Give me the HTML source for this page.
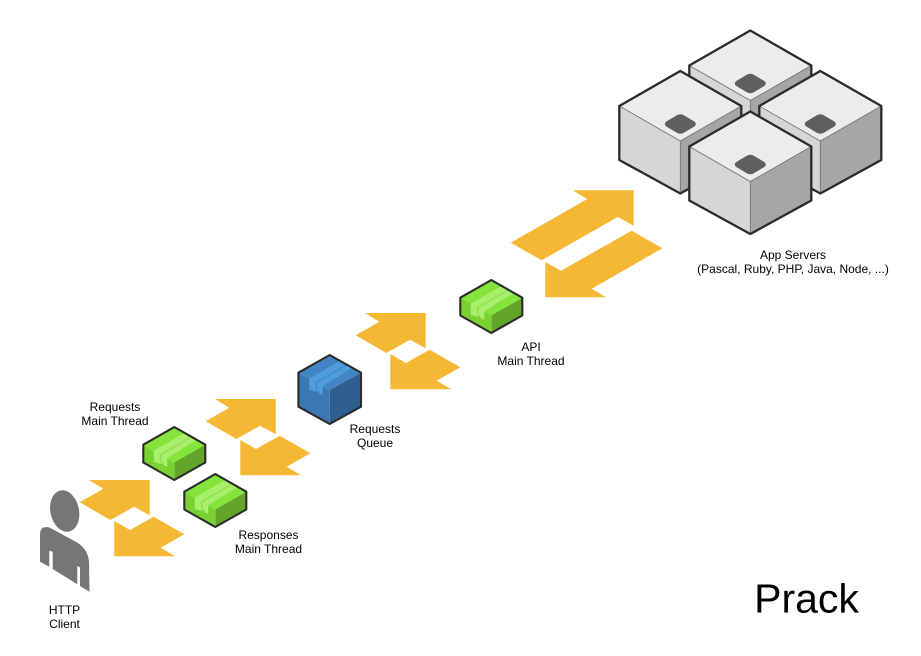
<!DOCTYPE html>
<html><head><meta charset="utf-8"><style>
html,body{margin:0;padding:0;background:#fff;width:921px;height:656px;overflow:hidden}
svg{display:block}
text{font-family:"Liberation Sans",Arial,sans-serif;font-size:12px;fill:#000;text-anchor:middle}
</style></head><body>
<svg width="921" height="656" viewBox="0 0 921 656" xmlns="http://www.w3.org/2000/svg">
<defs>
<g id="arrows" fill="#f4b835">
<polygon points="365,313 425.7,313 425.7,348.3 410,339.7 386.3,353 355.7,335.3 379.3,321.7"/>
<polygon points="390.3,354 406,363 429.7,349.7 460.3,367.3 436.7,380.7 451,389.3 390.3,389.3"/>
</g>
<g id="cube">
<polygon points="0,70 61,35 61,89 0,122.5" fill="#a6a6a6"/>
<polygon points="0,70 -61,35 -61,89 0,122.5" fill="#d6d6d6"/>
<polygon points="0,0 61,35 0,70 -61,35" fill="#ececec"/>
<path d="M-61,35 L0,70 L61,35 M0,70 V122.5" fill="none" stroke="#6e6e6e" stroke-width="0.8"/>
<polygon points="0,0 61,35 61,89 0,122.5 -61,89 -61,35" fill="none" stroke="#2b2b2b" stroke-width="2.3" stroke-linejoin="round"/>
<path d="M-3.5,44.2 Q0,42.2 3.5,44.2 L14,50.5 Q17,53 14,55.5 L3.5,61.8 Q0,63.8 -3.5,61.8 L-14,55.5 Q-17,53 -14,50.5 Z" fill="#5f5f5f"/>
</g>
<g id="gbox">
<polygon points="0,35.3 31,17.7 31,35.5 0,53" fill="#63a529"/>
<polygon points="0,35.3 -31,17.7 -31,35.5 0,53" fill="#7ad232"/>
<polygon points="0,0 31,17.7 0,35.3 -31,17.7" fill="#85e43c"/>
<polygon points="-20.5,23.5 10.5,5.9 22.5,12.8 -7,31.2 -7,40 -11,38 -11,36.5 -13,35.5 -13,37 -20.5,35" fill="#a9ef6d"/>
<polygon points="-14.2,27.3 16.6,9.4 17.8,10.1 -12.6,28.2 -12.6,36 -14.2,35.5" fill="#8fe34c"/>
<polygon points="0,0 31,17.7 31,35.5 0,53 -31,35.5 -31,17.7" fill="none" stroke="#2b2b2b" stroke-width="2.1" stroke-linejoin="round"/>
</g>
<g id="bbox">
<polygon points="0,34.7 31.3,17.7 31.3,51.7 0,69" fill="#2f5f8f"/>
<polygon points="0,34.7 -31.3,17.7 -31.3,51.7 0,69" fill="#3b77b3"/>
<polygon points="0,0 31.3,17.7 0,34.7 -31.3,17.7" fill="#4385c4"/>
<polygon points="-20.5,23.5 10.5,5.9 22.5,12.8 -7,31.2 -7,40 -11,38 -11,36.5 -13,35.5 -13,37 -20.5,35" fill="#4f9ddb"/>
<polygon points="-14.2,27.3 16.6,9.4 17.8,10.1 -12.6,28.2 -12.6,36 -14.2,35.5" fill="#4689c8"/>
<polygon points="0,0 31.3,17.7 31.3,51.7 0,69 -31.3,51.7 -31.3,17.7" fill="none" stroke="#2b2b2b" stroke-width="2.1" stroke-linejoin="round"/>
</g>
</defs>

<!-- big arrows -->
<g fill="#f4b835">
<polygon points="572.7,190.3 633.7,190.3 633.7,225.7 617.7,217 541.7,260.3 510.7,242.7 587.3,199"/>
<polygon points="631.7,230.7 662.3,248.3 591.7,288.7 606,297.3 545.3,297.3 545.3,262 561,270.7"/>
</g>
<use href="#arrows"/>
<use href="#arrows" transform="translate(-150,86)"/>
<use href="#arrows" transform="translate(-276,167)"/>

<!-- servers -->
<use href="#cube" transform="translate(750.3,30.5)"/>
<use href="#cube" transform="translate(680.3,71)"/>
<use href="#cube" transform="translate(820.3,71)"/>
<use href="#cube" transform="translate(750.3,111.5)"/>

<!-- boxes -->
<use href="#gbox" transform="translate(491.3,280)"/>
<use href="#bbox" transform="translate(329.7,355)"/>
<use href="#gbox" transform="translate(174.3,427)"/>
<use href="#gbox" transform="translate(215.3,474)"/>

<!-- person -->
<g fill="#767676">
<ellipse cx="64.7" cy="511" rx="14.3" ry="21" transform="rotate(-12 64.7 511)"/>
<path d="M40,561.7 V535 Q40,527.5 45,527.3 Q47.5,526.8 50,527.7 L76.7,542.3 Q88,549 89,562 L89.5,591.7 L80,586 V567.5 L77.3,566 V584.3 L52.7,569 V551.7 L49.3,550.7 V566.7 Z"/>
</g>

<!-- labels -->
<text x="793" y="259">App Servers</text>
<text x="793" y="273">(Pascal, Ruby, PHP, Java, Node, ...)</text>
<text x="531" y="351">API</text>
<text x="531" y="365">Main Thread</text>
<text x="375" y="433">Requests</text>
<text x="375" y="447">Queue</text>
<text x="115" y="411">Requests</text>
<text x="115" y="425">Main Thread</text>
<text x="268.5" y="539">Responses</text>
<text x="268.5" y="553">Main Thread</text>
<text x="64.5" y="614">HTTP</text>
<text x="64.5" y="628">Client</text>
<text x="806.5" y="612.5" style="font-size:41px">Prack</text>
</svg>
</body></html>
